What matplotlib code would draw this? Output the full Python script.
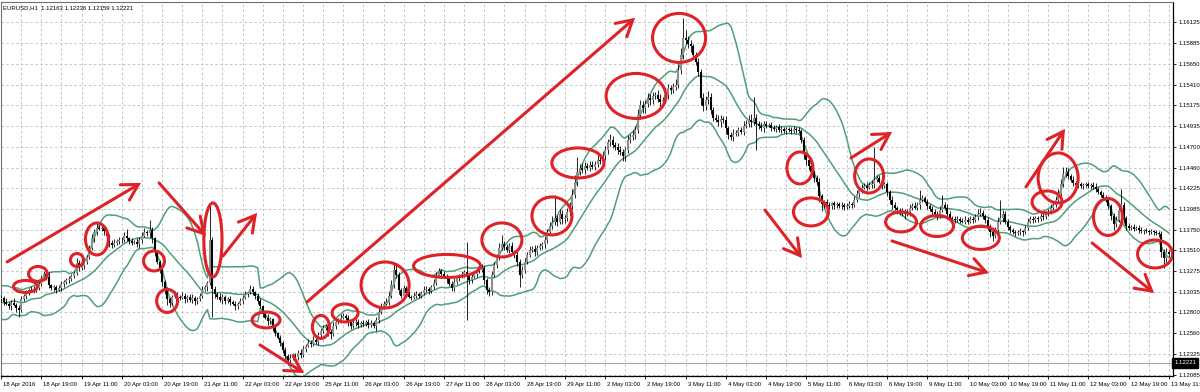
import numpy as np
import pandas as pd
import matplotlib
matplotlib.use("Agg")
import matplotlib.pyplot as plt
import matplotlib.transforms as mtransforms
from matplotlib.patches import Ellipse, FancyArrowPatch

# ---------------- data ----------------
header_text = "EURUSD,H1  1.12163 1.12236 1.12159 1.12221"
bid_price = 1.12221
base_price = 1.1200          # closes are stored in pips above this level

# 19 hourly closes before the first visible bar (needed for the 20-bar bands)
pre_close_pips = [98, 90, 78, 72, 80, 92, 100, 105, 96, 84, 76, 82, 94, 102, 108, 100, 92, 88, 95]

# hourly closes, 18 Apr 2016 03:00 ... 13 May 2016 11:00 (16 bars per row)
close_pips = [
    97, 92, 90, 87, 91, 89, 85, 83, 95, 99, 103, 106, 105, 107, 108, 113,
    119, 124, 121, 111, 108, 109, 106, 108, 113, 115, 117, 118, 122, 125, 137, 131,
    133, 138, 144, 154, 165, 172, 177, 176, 177, 173, 168, 160, 157, 160, 162, 163,
    163, 168, 165, 162, 160, 161, 158, 163, 168, 172, 171, 174, 165, 149, 138, 129,
    115, 105, 95, 91, 98, 100, 98, 97, 99, 95, 98, 94, 97, 93, 95, 99,
    106, 109, 114, 163, 107, 101, 98, 94, 98, 93, 95, 92, 90, 87, 90, 93,
    97, 101, 103, 107, 103, 99, 93, 87, 78, 74, 70, 72, 63, 56, 51, 45,
    37, 30, 25, 28, 31, 29, 34, 31, 38, 42, 45, 44, 48, 46, 54, 59,
    62, 64, 58, 55, 64, 69, 71, 74, 76, 74, 69, 64, 68, 69, 66, 68,
    67, 69, 66, 68, 64, 71, 80, 87, 90, 92, 99, 111, 129, 123, 106, 99,
    108, 102, 98, 97, 99, 101, 99, 102, 106, 107, 105, 109, 114, 121, 127, 124,
    122, 118, 113, 108, 115, 119, 122, 124, 126, 122, 117, 121, 124, 127, 129, 131,
    117, 106, 103, 123, 134, 142, 154, 158, 155, 152, 156, 149, 146, 138, 123, 129,
    138, 146, 152, 153, 149, 154, 156, 158, 163, 172, 179, 184, 188, 184, 193, 187,
    188, 195, 202, 215, 230, 241, 246, 243, 248, 246, 249, 247, 250, 255, 254, 259,
    266, 275, 278, 272, 270, 266, 264, 259, 266, 278, 281, 283, 289, 306, 318, 314,
    319, 326, 323, 328, 329, 325, 321, 323, 329, 337, 335, 338, 341, 358, 375, 395,
    392, 388, 385, 375, 367, 356, 326, 317, 323, 327, 312, 303, 301, 298, 302, 301,
    291, 283, 281, 285, 286, 289, 287, 294, 296, 301, 298, 303, 296, 294, 291, 296,
    294, 295, 291, 290, 293, 289, 290, 288, 290, 289, 288, 290, 289, 288, 278, 261,
    255, 248, 241, 234, 230, 213, 204, 207, 203, 202, 205, 203, 204, 202, 203, 201,
    202, 204, 203, 209, 216, 220, 223, 225, 223, 226, 227, 232, 234, 230, 225, 227,
    218, 209, 203, 200, 197, 195, 196, 193, 195, 200, 202, 200, 203, 209, 211, 207,
    202, 199, 195, 193, 191, 197, 203, 200, 193, 188, 187, 186, 187, 185, 184, 186,
    184, 187, 186, 189, 193, 194, 191, 186, 179, 172, 168, 174, 184, 188, 193, 184,
    178, 174, 172, 171, 172, 173, 172, 177, 184, 187, 186, 188, 187, 191, 189, 193,
    195, 200, 203, 209, 216, 227, 239, 241, 236, 232, 228, 226, 227, 225, 226, 227,
    225, 226, 224, 221, 218, 215, 211, 209, 202, 191, 181, 186, 197, 203, 188, 179,
    177, 178, 176, 177, 174, 173, 174, 173, 172, 173, 172, 171, 170, 149, 142, 149,
    147,
]

# upper / lower shadow length of every bar, in pips
wick_up_pips = [
    3, 2, 4, 2, 3, 5, 2, 3, 4, 2, 3, 2, 4, 3, 2, 5,
    4, 3, 2, 5, 2, 3, 2, 4, 3, 2, 3, 4, 2, 3, 5, 3,
    3, 4, 2, 3, 5, 4, 6, 3, 4, 2, 3, 2, 3, 4, 2, 3,
    3, 4, 8, 2, 3, 2, 4, 3, 4, 5, 3, 12, 4, 2, 3, 2,
    3, 2, 4, 3, 2, 5, 3, 2, 4, 3, 2, 3, 4, 2, 3, 3,
    4, 3, 2, 40, 4, 3, 2, 4, 3, 2, 3, 4, 2, 3, 2, 3,
    3, 4, 2, 5, 3, 2, 3, 4, 2, 3, 4, 3, 2, 3, 2, 3,
    2, 3, 2, 4, 3, 2, 3, 4, 3, 2, 4, 3, 5, 3, 4, 3,
    4, 3, 2, 3, 5, 4, 3, 4, 3, 2, 3, 2, 4, 3, 3, 2,
    3, 2, 4, 3, 2, 4, 5, 4, 3, 4, 5, 6, 9, 5, 3, 2,
    3, 2, 3, 2, 4, 3, 2, 3, 4, 3, 2, 3, 4, 5, 4, 3,
    3, 2, 4, 3, 4, 3, 2, 4, 3, 35, 3, 4, 3, 4, 3, 4,
    3, 2, 3, 5, 4, 5, 6, 11, 4, 3, 4, 5, 3, 4, 3, 4,
    4, 3, 4, 3, 4, 3, 4, 3, 5, 4, 5, 6, 27, 4, 5, 4,
    4, 5, 4, 6, 7, 17, 4, 5, 4, 3, 4, 5, 4, 5, 4, 6,
    5, 4, 6, 4, 3, 4, 5, 3, 4, 5, 4, 6, 5, 7, 5, 4,
    5, 6, 4, 5, 4, 6, 5, 4, 6, 5, 4, 5, 6, 7, 8, 22,
    9, 5, 4, 3, 4, 5, 3, 6, 5, 7, 4, 3, 4, 5, 4, 3,
    4, 3, 4, 5, 3, 4, 3, 5, 4, 5, 6, 24, 4, 3, 4, 3,
    3, 2, 3, 4, 2, 3, 4, 2, 3, 2, 3, 4, 2, 3, 2, 3,
    3, 4, 3, 2, 3, 4, 3, 2, 3, 4, 2, 3, 2, 3, 4, 2,
    3, 4, 2, 5, 4, 3, 4, 3, 4, 3, 5, 38, 4, 3, 4, 3,
    3, 2, 4, 3, 2, 3, 4, 2, 3, 4, 3, 5, 4, 11, 4, 3,
    3, 2, 3, 4, 3, 5, 12, 3, 4, 3, 2, 3, 4, 2, 3, 4,
    3, 4, 3, 4, 5, 6, 3, 2, 3, 2, 3, 4, 5, 21, 4, 3,
    3, 2, 3, 2, 3, 4, 2, 3, 4, 3, 4, 3, 2, 3, 4, 3,
    3, 4, 3, 4, 5, 6, 8, 6, 4, 3, 4, 3, 2, 3, 2, 3,
    3, 2, 3, 4, 3, 2, 3, 4, 3, 2, 3, 4, 5, 19, 3, 2,
    3, 2, 3, 2, 3, 4, 2, 3, 2, 3, 2, 3, 2, 3, 4, 5,
    3,
]
wick_dn_pips = [
    3, 4, 2, 3, 4, 2, 5, 8, 3, 2, 4, 3, 2, 3, 4, 2,
    3, 2, 4, 3, 2, 3, 4, 2, 3, 4, 2, 3, 2, 3, 2, 4,
    2, 3, 2, 3, 2, 4, 3, 2, 3, 4, 3, 5, 3, 2, 3, 4,
    3, 2, 3, 4, 3, 2, 3, 4, 3, 2, 3, 4, 5, 4, 3, 4,
    5, 4, 6, 5, 3, 2, 4, 3, 2, 4, 3, 2, 3, 4, 3, 2,
    3, 2, 4, 3, 32, 4, 3, 2, 4, 3, 2, 3, 2, 4, 3, 2,
    3, 2, 3, 2, 3, 4, 3, 2, 3, 2, 4, 3, 4, 3, 2, 4,
    4, 3, 5, 3, 2, 3, 4, 3, 2, 3, 2, 4, 3, 2, 3, 2,
    3, 2, 5, 6, 2, 3, 2, 3, 2, 3, 4, 3, 2, 3, 4, 3,
    3, 2, 4, 3, 2, 5, 3, 2, 3, 2, 3, 2, 3, 4, 5, 3,
    4, 3, 2, 3, 2, 3, 2, 3, 2, 3, 4, 3, 2, 3, 2, 4,
    3, 4, 3, 4, 3, 2, 3, 2, 3, 51, 4, 3, 2, 3, 2, 3,
    4, 5, 4, 3, 2, 3, 2, 3, 4, 3, 4, 3, 4, 5, 14, 3,
    4, 3, 2, 3, 4, 3, 2, 3, 4, 3, 2, 3, 4, 5, 3, 6,
    4, 3, 4, 3, 4, 5, 4, 3, 4, 3, 4, 3, 4, 3, 4, 3,
    4, 5, 4, 3, 4, 5, 4, 6, 5, 3, 4, 3, 4, 3, 4, 5,
    5, 4, 5, 4, 3, 4, 5, 4, 3, 4, 5, 4, 3, 4, 5, 4,
    4, 5, 6, 5, 4, 5, 8, 6, 5, 4, 5, 4, 3, 4, 5, 4,
    6, 4, 3, 4, 3, 4, 3, 4, 3, 4, 5, 3, 30, 4, 3, 4,
    3, 2, 3, 2, 3, 2, 3, 2, 3, 2, 3, 2, 3, 2, 4, 5,
    6, 5, 4, 5, 4, 6, 8, 4, 3, 4, 3, 4, 3, 2, 3, 4,
    3, 2, 3, 2, 3, 4, 3, 2, 3, 2, 3, 4, 3, 2, 3, 2,
    4, 5, 4, 3, 4, 3, 4, 6, 3, 4, 3, 2, 3, 4, 3, 2,
    4, 3, 4, 3, 5, 3, 2, 3, 4, 3, 2, 3, 2, 3, 2, 3,
    3, 2, 3, 2, 3, 2, 4, 3, 4, 5, 6, 3, 2, 3, 4, 3,
    4, 3, 2, 3, 2, 3, 4, 2, 3, 2, 3, 2, 3, 2, 3, 2,
    3, 2, 3, 2, 3, 2, 3, 4, 3, 2, 3, 2, 3, 2, 3, 2,
    2, 3, 2, 3, 2, 3, 2, 3, 4, 5, 6, 3, 2, 3, 5, 4,
    3, 2, 3, 2, 3, 2, 3, 2, 3, 2, 3, 2, 3, 6, 11, 4,
    4,
]

time_labels = ["18 Apr 2016", "18 Apr 19:00", "19 Apr 11:00", "20 Apr 03:00", "20 Apr 19:00",
               "21 Apr 11:00", "22 Apr 03:00", "22 Apr 19:00", "25 Apr 11:00", "26 Apr 03:00",
               "26 Apr 19:00", "27 Apr 11:00", "28 Apr 03:00", "28 Apr 19:00", "29 Apr 11:00",
               "2 May 03:00", "2 May 19:00", "3 May 11:00", "4 May 03:00", "4 May 19:00",
               "5 May 11:00", "6 May 03:00", "6 May 19:00", "9 May 11:00", "10 May 03:00",
               "10 May 19:00", "11 May 11:00", "12 May 03:00", "12 May 19:00", "13 May 11:00"]
label_step = 16
grid_step = 8

price_ticks = [1.16125, 1.15885, 1.15650, 1.15410, 1.15175, 1.14935, 1.14700, 1.14460,
               1.14225, 1.13985, 1.13750, 1.13510, 1.13275, 1.13035, 1.12800, 1.12560,
               1.12325, 1.12085]

bb_period = 20
bb_deviation = 2.0

# hand-drawn red marks (bar index / price)
circle_bar = [9.7, 14.7, 30.2, 38.1, 60.8, 66.0, 84.2, 105.3, 127.1, 136.7, 152.6, 177.2, 199.0, 218.9,
              229.2, 252.3, 269.4, 317.4, 321.8, 344.9, 357.6, 371.9, 389.3, 415.6, 420.0, 439.8, 458.5]
circle_price = [1.13098, 1.13241, 1.13401, 1.13642, 1.13390, 1.12932, 1.13631, 1.12714, 1.12634, 1.12794,
                1.13115, 1.13333, 1.13631, 1.13906, 1.14513, 1.15281, 1.15946, 1.14456, 1.13952, 1.14364,
                1.13837, 1.13791, 1.13654, 1.14066, 1.14341, 1.13894, 1.13470]
circle_w_bars = [9.5, 7.5, 5.2, 9.1, 8.3, 8.3, 7.2, 11.1, 6.8, 10.3, 19.1, 26.6, 15.9, 15.9,
                 20.7, 23.8, 21.1, 10.3, 13.9, 11.5, 12.3, 13.1, 14.7, 11.9, 15.9, 11.5, 13.9]
circle_h_price = [0.00138, 0.00172, 0.00149, 0.00367, 0.00229, 0.00264, 0.00848, 0.00183, 0.00264, 0.00206,
                  0.00527, 0.00264, 0.00390, 0.00435, 0.00344, 0.00516, 0.00562, 0.00367, 0.00321, 0.00390,
                  0.00229, 0.00241, 0.00264, 0.00252, 0.00573, 0.00424, 0.00321]

arrow_from_bar = [2.4, 62.8, 88.2, 102.9, 121.6, 303.5, 337.7, 354.0, 407.2, 433.5]
arrow_from_price = [1.13379, 1.14284, 1.13447, 1.12427, 1.12920, 1.13974, 1.14570, 1.13619, 1.14238, 1.13596]
arrow_to_bar = [55.6, 81.4, 101.7, 120.4, 251.9, 318.2, 354.0, 392.5, 422.7, 458.1]
arrow_to_price = [1.14284, 1.13676, 1.13940, 1.12106, 1.16175, 1.13424, 1.14868, 1.13252, 1.14903, 1.13023]

# ---------------- derived series ----------------
pre = base_price + np.array(pre_close_pips) / 10000.0
closes = base_price + np.array(close_pips) / 10000.0
n = len(closes)
idx = np.arange(n)
opens = np.r_[pre[-1], closes[:-1]]
highs = np.maximum(opens, closes) + np.array(wick_up_pips) / 10000.0
lows = np.minimum(opens, closes) - np.array(wick_dn_pips) / 10000.0

full = pd.Series(np.r_[pre, closes])
mid = full.rolling(bb_period).mean().to_numpy()[len(pre):]
sd = full.rolling(bb_period).std(ddof=0).to_numpy()[len(pre):]
upper = mid + bb_deviation * sd
lower = mid - bb_deviation * sd

# ---------------- figure ----------------
W, H, DPI = 1200, 392, 100
fig = plt.figure(figsize=(W / DPI, H / DPI), dpi=DPI)
fig.patch.set_facecolor("white")
ax_l, ax_r, ax_t, ax_b = 1, 1173, 2, 376
ax = fig.add_axes([ax_l / W, (H - ax_b) / H, (ax_r - ax_l) / W, (ax_b - ax_t) / H])

bar_x0, bar_dx = 1.0, 2.517   # pixel position of bar 0 and spacing
ax.set_xlim((ax_l - bar_x0) / bar_dx, (ax_r - bar_x0) / bar_dx)
p_per_px = 0.0001146
p_top = 1.16125 + (22.3 - ax_t) * p_per_px
p_bot = 1.16125 - (ax_b - 22.3) * p_per_px
ax.set_ylim(p_bot, p_top)

FONT = "Liberation Sans"
FS = 4.3

# grid
grid_kw = dict(color="#c4c4c4", lw=0.7, ls=(0, (2.5, 2.5)), zorder=0)
for p in price_ticks:
    ax.axhline(p, **grid_kw)
for gx in range(0, n + 1, grid_step):
    ax.axvline(gx, **grid_kw)

# bid line
ax.axhline(bid_price, color="#a8a8a8", lw=0.8, zorder=1)

# Bollinger bands
band_col = "#4f9f78"
for s in (upper, mid, lower):
    ax.plot(idx, s, color=band_col, lw=1.1, zorder=2)

# bars (candles)
ax.vlines(idx, lows, highs, colors="black", lw=0.6, zorder=3)
body_cols = np.where(closes >= opens, "#8e8e8e", "#000000")
ax.vlines(idx, opens, closes, colors=body_cols, lw=1.5, zorder=4)

# red annotations
red = "#df2227"
for cx, cy, w, h in zip(circle_bar, circle_price, circle_w_bars, circle_h_price):
    ax.add_patch(Ellipse((cx, cy), w, h, fill=False, ec=red, lw=2.2, zorder=6))
for x0, y0, x1, y1 in zip(arrow_from_bar, arrow_from_price, arrow_to_bar, arrow_to_price):
    ax.add_patch(FancyArrowPatch((x0, y0), (x1, y1),
                                 arrowstyle="->,head_length=0.7,head_width=0.4",
                                 mutation_scale=16, lw=2.2, color=red,
                                 shrinkA=0, shrinkB=0, zorder=6,
                                 capstyle="round", joinstyle="miter"))

# axes frame / ticks
for side in ("left", "top"):
    ax.spines[side].set_color("#707070")
    ax.spines[side].set_linewidth(0.8)
for side in ("right", "bottom"):
    ax.spines[side].set_color("black")
    ax.spines[side].set_linewidth(0.9)

ax.yaxis.tick_right()
ax.set_yticks(price_ticks)
ax.set_yticklabels([f"{p:.5f}" for p in price_ticks], fontsize=FS, family=FONT)
ax.tick_params(axis="y", direction="out", length=2.5, width=0.6, pad=1.5, colors="black")

label_pos = [k * label_step for k in range(len(time_labels))]
ax.set_xticks(label_pos)
ax.set_xticklabels(time_labels, fontsize=FS, family=FONT)
ax.tick_params(axis="x", direction="out", length=2.5, width=0.6, pad=1.5, colors="black")
offset = mtransforms.ScaledTranslation(2 / DPI, 0, fig.dpi_scale_trans)
for lab in ax.get_xticklabels():
    lab.set_horizontalalignment("left")
    lab.set_transform(lab.get_transform() + offset)

# bid price box on the price scale
blend = mtransforms.blended_transform_factory(ax.transAxes, ax.transData)
ax.text(1.0012, bid_price, f"{bid_price:.5f}", transform=blend, ha="left", va="center",
        fontsize=FS, family=FONT, color="white", zorder=10, clip_on=False,
        bbox=dict(facecolor="black", edgecolor="black", boxstyle="square,pad=0.35"))

# header
fig.text(3 / W, 1 - 8 / H, header_text, fontsize=FS, family=FONT, color="black",
         ha="left", va="center")

fig.savefig("out.png", dpi=DPI, facecolor="white")
